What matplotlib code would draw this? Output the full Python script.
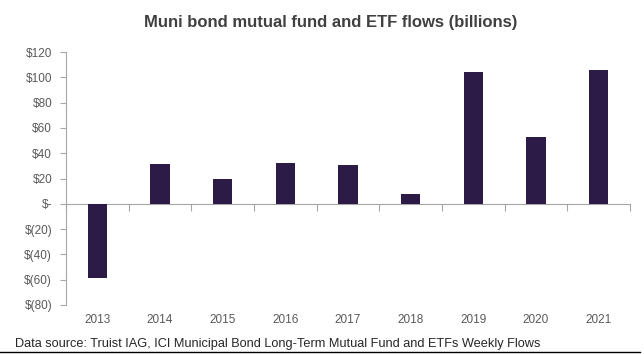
import numpy as np
import matplotlib.pyplot as plt
from matplotlib.transforms import blended_transform_factory

plt.rcParams['font.family'] = ['Liberation Sans', 'DejaVu Sans']

years = ['2013', '2014', '2015', '2016', '2017', '2018', '2019', '2020', '2021']
flows = [-58.5, 31.5, 19.5, 32.5, 31, 8, 104, 52.5, 105.5]
yticks = [-80, -60, -40, -20, 0, 20, 40, 60, 80, 100, 120]
ylabels = ['$(80)', '$(60)', '$(40)', '$(20)', '$-', '$20', '$40', '$60', '$80', '$100', '$120']

fig = plt.figure(figsize=(6.44, 3.54), dpi=100)
ax = fig.add_axes([66/644, 49/354, 564/644, 253/354])

x = np.arange(len(years))
ax.bar(x, flows, width=0.31, color='#2c1a47', zorder=3)

ax.set_xlim(-0.5, len(years) - 0.5)
ax.set_ylim(-80, 120)
ax.set_yticks(yticks)
ax.set_yticklabels(ylabels, fontsize=8.5, color='#595959')
ax.tick_params(axis='y', length=4, color='#a6a6a6', pad=6)

for s in ['top', 'right']:
    ax.spines[s].set_visible(False)
ax.spines['left'].set_color('#a6a6a6')
ax.spines['bottom'].set_position(('data', 0))
ax.spines['bottom'].set_color('#a6a6a6')

# ticks between categories on the zero line, labels at the bottom
ax.set_xticks(np.arange(len(years) + 1) - 0.5)
ax.set_xticklabels([])
ax.tick_params(axis='x', length=5, color='#a6a6a6')
trans = blended_transform_factory(ax.transData, ax.transAxes)
for i, yr in enumerate(years):
    ax.text(i, -0.035, yr, transform=trans, ha='center', va='top',
            fontsize=8.5, color='#595959')

fig.text(331/644, 1 - 23/354, 'Muni bond mutual fund and ETF flows (billions)',
         ha='center', va='center', fontsize=12, fontweight='bold', color='#404040')
fig.text(15/644, 1 - 346.5/354,
         'Data source: Truist IAG, ICI Municipal Bond Long-Term Mutual Fund and ETFs Weekly Flows',
         ha='left', va='baseline', fontsize=9.2, color='#262626')
fig.add_artist(plt.Line2D([0, 640/644], [1 - 351.5/354] * 2, color='black', lw=1))

fig.savefig('out.png', dpi=100)
